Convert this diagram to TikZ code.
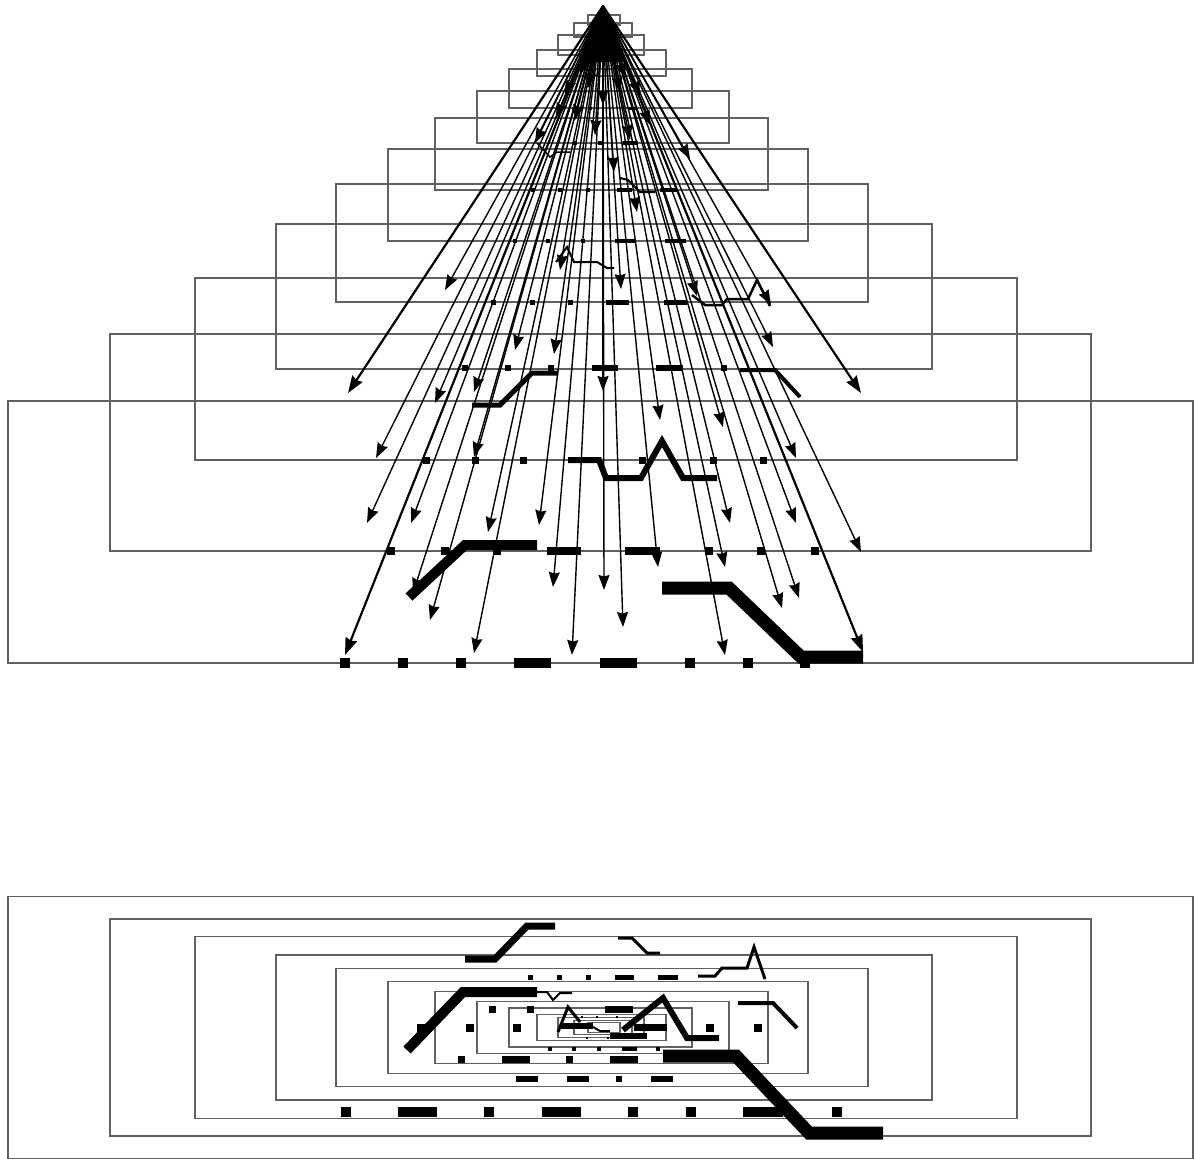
\documentclass[tikz,border=0pt]{standalone}
\usetikzlibrary{arrows.meta}
\newcommand\dsq[3]{\fill ({#1-#3/2},{#2-#3/2}) rectangle ++(#3,#3);}
\newcommand\dbr[4]{\fill (#1,{#3-#4/2}) rectangle (#2,{#3+#4/2});}
\begin{document}
\begin{tikzpicture}[x=1bp,y=-1bp,
  frame/.style={draw=black!62, line width=1.1bp},
  arr/.style={line width=1.4bp, -{Stealth[length=15bp,width=11bp,inset=1.5bp]}},
  thickarr/.style={line width=2.2bp, -{Stealth[length=17bp,width=12bp,inset=1.5bp]}},
  pl/.style={line join=miter, line cap=butt}]
\useasboundingbox (0,0) rectangle (1194,1159);
\fill[white] (0,0) rectangle (1194,1159);

% nested frames: top (stacked, perspective) and bottom (plan)
\foreach \l/\r/\h/\b in {588/620/10/25, 574/632/14/37, 558/644/20/55, 537/666/26/76,
  509/692/39/108, 477/729/52/143, 435/768/72/190, 388/808/92/241, 336/868/118/302,
  276/932/145/369, 195/1017/182/460, 110/1091/217/551, 8/1193/262/663}{
  \draw[frame] (\l,{\b-\h}) rectangle (\r,\b);
  \draw[frame] (\l,{1027.5-\h/2}) rectangle (\r,{1027.5+\h/2});
}

% fan of arrows
\coordinate (apex) at (603,6);
\fill (apex) -- (579,62) -- (627,62) -- cycle;
\foreach \x/\y [count=\i] in {603/105, 535/143, 690/159, 614/172, 637/212,
  445/290, 560/270, 621/289, 697/296, 771/305, 515/350, 554/354, 773/347,
  474/392, 435/403, 603/391, 660/420, 723/427, 376/458, 474/457, 796/458,
  367/523, 411/523, 488/532, 539/525, 730/523, 796/523, 861/552, 658/567,
  725/567, 413/593, 553/587, 604/590, 782/608, 799/598, 430/620, 623/627,
  474/653, 572/655, 725/655,
  580/75, 596/60, 611/62, 625/78, 565/95, 640/96, 588/88, 620/92,
  575/120, 650/125, 556/118, 595/135, 630/140, 603/50}{
  \coordinate (t\i) at (\x,\y);
  \draw[arr] (apex) -- (t\i);
}
\foreach \x/\y [count=\i] in {348/393, 861/393, 345/655, 863/652}{
  \coordinate (T\i) at (\x,\y);
  \draw[thickarr] (apex) -- (T\i);
}

% ---------- top view dashes ----------
% layer 13
\dsq{345}{663}{10}\dsq{403}{663}{10}\dsq{461}{663}{10}
\dbr{514}{551}{663}{10}\dbr{600}{637}{663}{10}
\dsq{690}{663}{10}\dsq{748}{663}{10}\dsq{805}{663}{10}
\draw[pl,line width=13bp] (662,588) -- (729,588) -- (801,657) -- (863,657);
% layer 12
\dsq{391}{551}{8}\dsq{445}{551}{8}\dsq{497}{551}{8}
\dbr{547}{581}{551}{8}\dbr{625}{660}{551}{8}
\dsq{709}{551}{8}\dsq{761}{551}{8}\dsq{815}{551}{8}
\draw[pl,line width=10bp] (409,597) -- (465,545) -- (537,545);
% layer 11
\dsq{426}{460}{7}\dsq{475}{460}{7}\dsq{523}{460}{7}
\dsq{642}{460}{7}\dsq{713}{460}{7}\dsq{763}{460}{7}
\draw[pl,line width=6bp] (568,460) -- (599,460) -- (606,478) -- (641,478) -- (662,441) -- (683,478) -- (717,478);
% layer 10
\dsq{465}{368}{6}\dsq{508}{368}{6}\dsq{551}{368}{6}
\dbr{592}{618}{368}{6}\dbr{656}{683}{368}{6}\dsq{724}{368}{6}
\draw[pl,line width=5bp] (472,405) -- (500,405) -- (532,373) -- (558,373);
\draw[pl,line width=4bp] (740,370) -- (775,370) -- (800,397);
% layer 9
\dsq{493}{302}{5}\dsq{532}{302}{5}\dsq{570}{302}{5}
\dbr{606}{629}{302}{5}\dbr{664}{687}{302}{5}
\draw[pl,line width=2.5bp] (692,295) -- (705,305) -- (722,305) -- (727,299) -- (748,299) -- (757,280) -- (770,306);
% layer 8
\dsq{515}{241}{4.5}\dsq{548}{241}{4.5}\dsq{583}{241}{4.5}
\dbr{615}{636}{241}{4.5}\dbr{665}{686}{241}{4.5}
\draw[pl,line width=2bp] (556,262) -- (567,247) -- (574,262) -- (597,262) -- (607,268) -- (614,268);
% layer 7
\dsq{533}{190}{4}\dsq{560}{190}{4}\dsq{588}{190}{4}
\dbr{617}{632}{190}{4}\dbr{660}{677}{190}{4}
\draw[pl,line width=2bp] (620,178) -- (628,180) -- (640,192) -- (655,192);
% layer 6
\dsq{575}{143}{3.5}\dsq{600}{143}{3.5}\dbr{623}{638}{143}{3.5}
\draw[pl,line width=1.5bp] (537,143) -- (550,157) -- (557,152) -- (570,152);
% layer 5
\dsq{573}{108}{3}\dsq{590}{108}{3}\dbr{628}{637}{108}{3}

% ---------- bottom (plan) view ----------
\draw[pl,line width=7bp] (465,959) -- (495,959) -- (527,926) -- (555,926);
\draw[pl,line width=3bp] (618,938) -- (632,938) -- (647,953) -- (660,953);
\dsq{530}{977}{5}\dsq{559}{977}{5}\dsq{588}{977}{5}
\dbr{615}{634}{977}{5}\dbr{658}{678}{977}{5}
\draw[pl,line width=3bp] (698,976) -- (715,976) -- (722,968) -- (747,968) -- (754,947) -- (765,979);
\draw[pl,line width=10bp] (407,1050) -- (463,992) -- (537,992);
\draw[pl,line width=2bp] (537,992) -- (547,992) -- (553,1000) -- (560,993) -- (572,993);
\draw[pl,line width=4bp] (738,1003) -- (773,1003) -- (797,1028);
\dsq{492}{1009}{7}\dsq{530}{1009}{7}\dbr{605}{633}{1009}{7}
\dsq{421}{1028}{8}\dsq{470}{1028}{8}\dsq{517}{1028}{8}\dsq{710}{1028}{8}\dsq{758}{1028}{8}
\draw[pl,line width=6bp] (623,1030) -- (663,998) -- (687,1038) -- (719,1038);
\dbr{634}{667}{1027}{7}
\draw[pl,line width=3bp] (558,1032) -- (568,1007) -- (580,1022);
\dbr{560}{593}{1026}{6}
\draw[pl,line width=2bp] (593,1027) -- (600,1031) -- (610,1031);
\dbr{610}{647}{1036}{6}
\dsq{582}{1017}{2.5}\dsq{597}{1017}{2.5}\dsq{617}{1017}{2.5}
\dsq{587}{1038}{2.5}\dsq{608}{1038}{2.5}
\dsq{550}{1049}{4}\dsq{574}{1049}{4}\dsq{599}{1049}{4}\dbr{622}{637}{1049}{4}\dsq{658}{1049}{4}
\dsq{461}{1059}{7}\dbr{502}{530}{1059}{7}\dsq{569}{1059}{7}\dbr{610}{638}{1059}{7}
\draw[pl,line width=13bp] (663,1056) -- (736,1056) -- (809,1133) -- (883,1133);
\dbr{516}{538}{1079}{6}\dbr{567}{589}{1079}{6}\dsq{619}{1079}{6}\dbr{651}{673}{1079}{6}
\dsq{346}{1112}{10}\dbr{398}{437}{1112}{10}\dsq{489}{1112}{10}\dbr{542}{581}{1112}{10}
\dsq{633}{1112}{10}\dsq{691}{1112}{10}\dbr{743}{783}{1112}{10}\dsq{837}{1112}{10}
\end{tikzpicture}
\end{document}
